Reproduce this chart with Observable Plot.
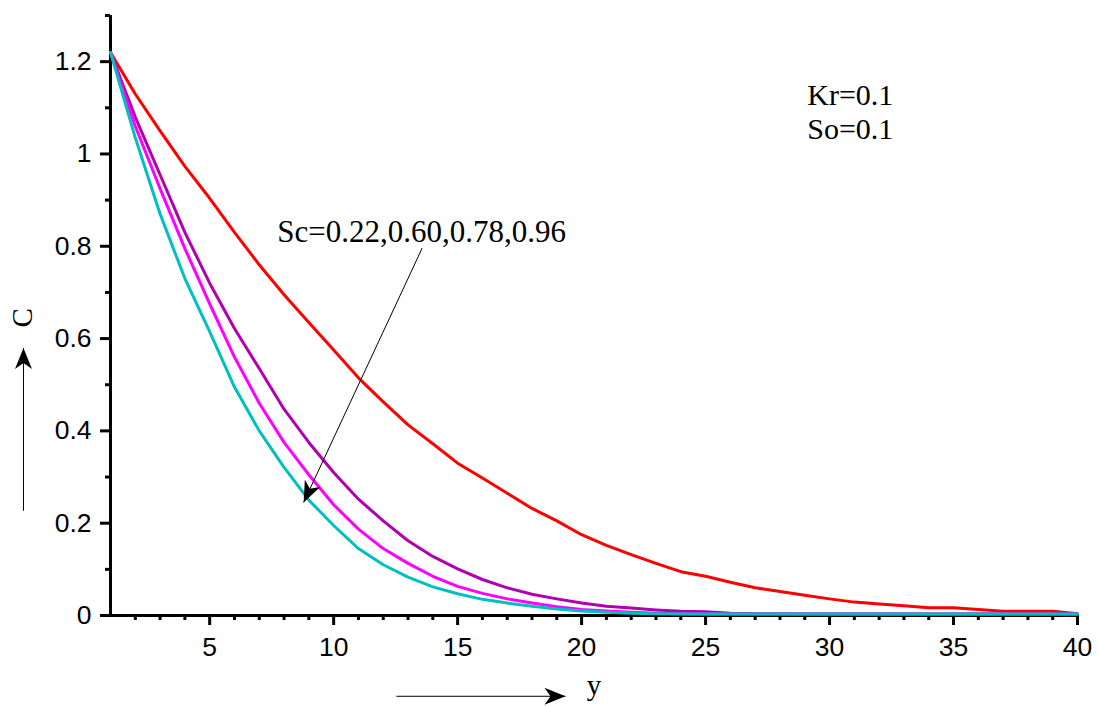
<!DOCTYPE html>
<html>
<head>
<meta charset="utf-8">
<script src="https://cdn.jsdelivr.net/npm/d3@7"></script>
<script src="https://cdn.jsdelivr.net/npm/@observablehq/plot@0.6"></script>
<style>
  html, body { margin: 0; padding: 0; background: #fff; }
  #chart svg { display: block; }
</style>
</head>
<body>
<div id="chart"></div>
<script>
// x values (y-coordinate in the physical problem)
const yPos = [1,2,3,4,5,6,7,8,9,10,11,12,13,14,15,16,17,18,19,20,21,22,23,24,25,26,27,28,29,30,31,32,33,34,35,36,37,38,39,40];

const scValues = ["0.22", "0.60", "0.78", "0.96"];
const scColors = ["#ff0000", "#b000b0", "#ff00ff", "#00bfbf"];

const c022 = [1.22,1.13,1.05,0.973,0.904,0.83,0.76,0.695,0.635,0.575,0.515,0.463,0.413,0.372,0.33,0.298,0.265,0.232,0.205,0.175,0.152,0.132,0.113,0.095,0.085,0.072,0.06,0.052,0.044,0.036,0.029,0.025,0.021,0.017,0.017,0.013,0.009,0.009,0.009,0.004];
const c060 = [1.22,1.08,0.955,0.83,0.72,0.622,0.535,0.447,0.375,0.31,0.252,0.205,0.162,0.128,0.101,0.078,0.06,0.046,0.036,0.027,0.02,0.016,0.012,0.009,0.008,0.005,0.004,0.004,0.003,0.003,0.003,0.003,0.003,0.003,0.003,0.003,0.003,0.003,0.003,0.003];
const c078 = [1.22,1.06,0.925,0.795,0.675,0.56,0.46,0.375,0.305,0.24,0.187,0.145,0.113,0.085,0.063,0.048,0.036,0.027,0.019,0.013,0.01,0.007,0.005,0.004,0.003,0.003,0.003,0.003,0.003,0.003,0.003,0.003,0.003,0.003,0.003,0.003,0.003,0.003,0.003,0.003];
const c096 = [1.22,1.035,0.87,0.73,0.615,0.495,0.4,0.321,0.25,0.195,0.145,0.11,0.083,0.062,0.047,0.035,0.027,0.02,0.014,0.01,0.007,0.005,0.004,0.003,0.003,0.003,0.003,0.003,0.003,0.003,0.003,0.003,0.003,0.003,0.003,0.003,0.003,0.003,0.003,0.003];

const xMajorTicks = [5,10,15,20,25,30,35,40];
const xMinorTicks = [2,3,4,6,7,8,9,11,12,13,14,16,17,18,19,21,22,23,24,26,27,28,29,31,32,33,34,36,37,38,39];
const yMajorTicks = [0,0.2,0.4,0.6,0.8,1,1.2];
const yMinorTicks = [0.1,0.3,0.5,0.7,0.9,1.1,1.3];

// annotation texts (data coordinates)
const scNote = [{x: 7.73, y: 0.83, text: "Sc=0.22,0.60,0.78,0.96"}];
const paramNotes = [
  {x: 29.1, y: 1.126, text: "Kr=0.1"},
  {x: 29.1, y: 1.053, text: "So=0.1"}
];
const xLabel = [{x: 20.5, y: -0.153, text: "y"}];
const yLabel = [{x: -2.55, y: 0.645, text: "C"}];
const arrows = [
  {x1: 13.57, y1: 0.796, x2: 8.79, y2: 0.245},
  {x1: 12.53, y1: -0.175, x2: 19.35, y2: -0.175},
  {x1: -2.51, y1: 0.227, x2: -2.51, y2: 0.5795}
];

const series = [c022, c060, c078, c096];
const rows = [];
series.forEach((vals, i) => vals.forEach((v, j) => rows.push({y: yPos[j], C: v, Sc: scValues[i]})));

function arrowHead(color, context) {
  const ns = "http://www.w3.org/2000/svg";
  const m = context.document.createElementNS(ns, "marker");
  m.setAttribute("viewBox", "-22 -10 24 20");
  m.setAttribute("markerUnits", "userSpaceOnUse");
  m.setAttribute("markerWidth", 24);
  m.setAttribute("markerHeight", 20);
  m.setAttribute("refX", 0);
  m.setAttribute("refY", 0);
  m.setAttribute("orient", "auto");
  const p = context.document.createElementNS(ns, "path");
  p.setAttribute("d", "M0,0L-21,-8.5L-15,0L-21,8.5Z");
  p.setAttribute("fill", "black");
  p.setAttribute("stroke", "none");
  m.appendChild(p);
  return m;
}

const serif = "Liberation Serif, Times New Roman, serif";

const chart = Plot.plot({
  width: 1098,
  height: 706,
  marginLeft: 110,
  marginRight: 21,
  marginTop: 15,
  marginBottom: 91,
  style: {background: "white", overflow: "visible", fontFamily: "Liberation Sans, Arial, sans-serif"},
  x: {domain: [1, 40], axis: null},
  y: {domain: [0, 1.3], axis: null},
  color: {domain: scValues, range: scColors},
  marks: [
    Plot.axisX(xMajorTicks, {tickSize: 10, tickPadding: 12, strokeWidth: 3, fontSize: 26.5, color: "black", label: null, tickFormat: d => String(d)}),
    Plot.axisX(xMinorTicks, {tickSize: 5, strokeWidth: 3, color: "black", label: null, tickFormat: () => ""}),
    Plot.axisY(yMajorTicks, {tickSize: 10, tickPadding: 9, strokeWidth: 3, fontSize: 26.5, color: "black", label: null, tickFormat: d3.format("")}),
    Plot.axisY(yMinorTicks, {tickSize: 5, strokeWidth: 3, color: "black", label: null, tickFormat: () => ""}),
    Plot.ruleY([0], {x1: 1, x2: 40, stroke: "black", strokeWidth: 3}),
    Plot.ruleX([1], {y1: 0, y2: 1.3, stroke: "black", strokeWidth: 3}),
    Plot.line(rows, {x: "y", y: "C", z: "Sc", stroke: "Sc", strokeWidth: 3}),
    Plot.link(arrows, {x1: "x1", y1: "y1", x2: "x2", y2: "y2", stroke: "black", strokeWidth: 1, markerEnd: arrowHead}),
    Plot.text(scNote, {x: "x", y: "y", text: "text", textAnchor: "start", fontFamily: serif, fontSize: 31, fill: "black"}),
    Plot.text(paramNotes, {x: "x", y: "y", text: "text", textAnchor: "start", fontFamily: serif, fontSize: 30, fill: "black"}),
    Plot.text(xLabel, {x: "x", y: "y", text: "text", textAnchor: "middle", fontFamily: serif, fontSize: 29, fill: "black"}),
    Plot.text(yLabel, {x: "x", y: "y", text: "text", rotate: -90, fontFamily: serif, fontSize: 29, fill: "black"})
  ]
});
document.getElementById("chart").appendChild(chart);
</script>
</body>
</html>
